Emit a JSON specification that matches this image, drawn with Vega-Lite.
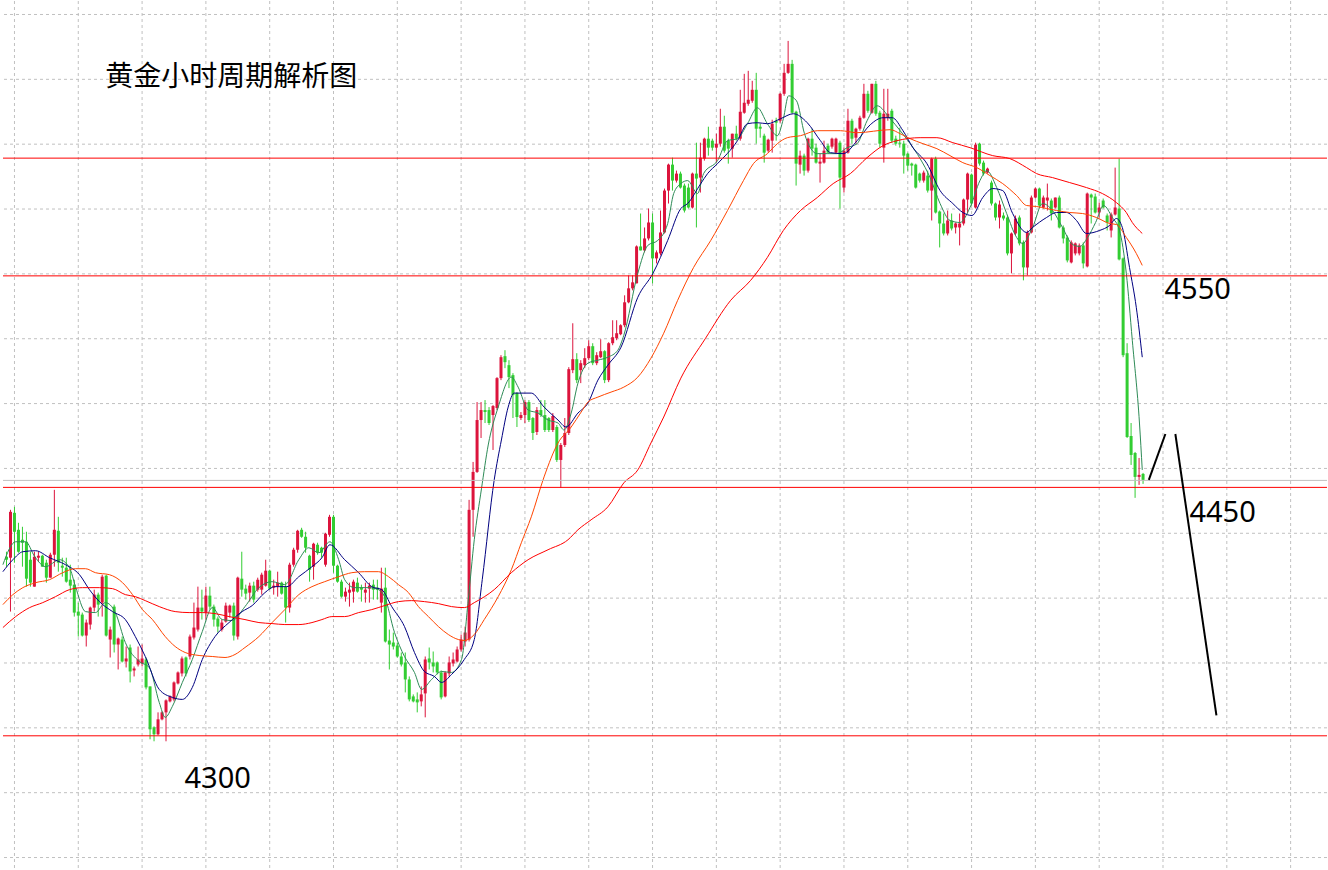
{
"$schema":"https://vega.github.io/schema/vega-lite/v6.json",
"width":1328,"height":870,"padding":0,
"autosize":{"type":"fit","contains":"padding"},
"background":"#ffffff",
"config":{"view":{"stroke":null}},
"datasets":{
"candles":[
{"i":0,"o":4421.5,"h":4424,"l":4416.5,"c":4420},
{"i":1,"o":4421,"h":4445,"l":4394,"c":4444},
{"i":2,"o":4443.5,"h":4446.5,"l":4418.5,"c":4434},
{"i":3,"o":4435,"h":4438.5,"l":4423.5,"c":4424},
{"i":4,"o":4430,"h":4436.5,"l":4416.5,"c":4428.5},
{"i":5,"o":4429,"h":4434,"l":4406.5,"c":4410.5},
{"i":6,"o":4420,"h":4424,"l":4406.5,"c":4408.5},
{"i":7,"o":4406.5,"h":4424,"l":4406.5,"c":4421.5},
{"i":8,"o":4421,"h":4424,"l":4419,"c":4422},
{"i":9,"o":4422,"h":4422.5,"l":4416.5,"c":4416.5},
{"i":10,"o":4418.5,"h":4420,"l":4408.5,"c":4411},
{"i":11,"o":4411,"h":4423.5,"l":4411,"c":4422.5},
{"i":12,"o":4422.5,"h":4455,"l":4416.5,"c":4435},
{"i":13,"o":4434.5,"h":4441.5,"l":4414,"c":4418.5},
{"i":14,"o":4417,"h":4421,"l":4411.5,"c":4416},
{"i":15,"o":4416,"h":4421,"l":4408.5,"c":4409},
{"i":16,"o":4410,"h":4417.5,"l":4403.5,"c":4407},
{"i":17,"o":4407.5,"h":4410,"l":4391.5,"c":4393.5},
{"i":18,"o":4394,"h":4398.5,"l":4381.5,"c":4392},
{"i":19,"o":4392.5,"h":4393.5,"l":4381.5,"c":4382},
{"i":20,"o":4382,"h":4390,"l":4376.5,"c":4388.5},
{"i":21,"o":4387.5,"h":4396.5,"l":4385,"c":4396},
{"i":22,"o":4396,"h":4405,"l":4394,"c":4402.5},
{"i":23,"o":4402.5,"h":4403.5,"l":4391.5,"c":4397.5},
{"i":24,"o":4398.5,"h":4412.5,"l":4391.5,"c":4411.5},
{"i":25,"o":4412,"h":4412.5,"l":4381.5,"c":4382},
{"i":26,"o":4380,"h":4386.5,"l":4371,"c":4385},
{"i":27,"o":4396.5,"h":4397.5,"l":4373.5,"c":4377.5},
{"i":28,"o":4377.5,"h":4381,"l":4365,"c":4380.5},
{"i":29,"o":4380,"h":4381.5,"l":4368.5,"c":4369},
{"i":30,"o":4369,"h":4376.5,"l":4366,"c":4370.5},
{"i":31,"o":4376,"h":4377.5,"l":4358.5,"c":4364},
{"i":32,"o":4364.5,"h":4366.5,"l":4361.5,"c":4365.5},
{"i":33,"o":4367.5,"h":4376.5,"l":4366.5,"c":4370},
{"i":34,"o":4368,"h":4377.5,"l":4366.5,"c":4370.5},
{"i":35,"o":4370,"h":4371,"l":4355,"c":4356},
{"i":36,"o":4356.5,"h":4356.5,"l":4330,"c":4335},
{"i":37,"o":4336,"h":4336.5,"l":4329,"c":4332.5},
{"i":38,"o":4332.5,"h":4343.5,"l":4332,"c":4340},
{"i":39,"o":4340,"h":4344,"l":4339.5,"c":4343.5},
{"i":40,"o":4343.5,"h":4350,"l":4329,"c":4349.5},
{"i":41,"o":4349,"h":4352,"l":4348.5,"c":4351.5},
{"i":42,"o":4350,"h":4359,"l":4349,"c":4358.5},
{"i":43,"o":4358,"h":4364,"l":4357.5,"c":4363.5},
{"i":44,"o":4363,"h":4371.5,"l":4361.5,"c":4370.5},
{"i":45,"o":4371,"h":4371.5,"l":4361.5,"c":4363},
{"i":46,"o":4371.5,"h":4382.5,"l":4370,"c":4381.5},
{"i":47,"o":4381,"h":4398.5,"l":4380,"c":4386},
{"i":48,"o":4385,"h":4406.5,"l":4384,"c":4396},
{"i":49,"o":4396,"h":4405,"l":4390,"c":4394},
{"i":50,"o":4393.5,"h":4406.5,"l":4390,"c":4402},
{"i":51,"o":4402,"h":4406.5,"l":4395,"c":4396.5},
{"i":52,"o":4396.5,"h":4397.5,"l":4386.5,"c":4390},
{"i":53,"o":4390.5,"h":4391.5,"l":4383.5,"c":4386.5},
{"i":54,"o":4385,"h":4390,"l":4384,"c":4388.5},
{"i":55,"o":4389,"h":4398.5,"l":4388.5,"c":4397},
{"i":56,"o":4393.5,"h":4397.5,"l":4391,"c":4397},
{"i":57,"o":4397,"h":4398.5,"l":4379.5,"c":4382},
{"i":58,"o":4381.5,"h":4411.5,"l":4380,"c":4411},
{"i":59,"o":4410.5,"h":4424,"l":4401.5,"c":4405},
{"i":60,"o":4405.5,"h":4407.5,"l":4400,"c":4403},
{"i":61,"o":4403.5,"h":4408.5,"l":4399,"c":4407},
{"i":62,"o":4407,"h":4409,"l":4398.5,"c":4400},
{"i":63,"o":4405,"h":4411,"l":4404,"c":4410},
{"i":64,"o":4405,"h":4413.5,"l":4402.5,"c":4412.5},
{"i":65,"o":4407,"h":4420,"l":4406.5,"c":4414.5},
{"i":66,"o":4414.5,"h":4415,"l":4405,"c":4405.5},
{"i":67,"o":4406,"h":4410,"l":4402.5,"c":4407},
{"i":68,"o":4406.5,"h":4414,"l":4401.5,"c":4408.5},
{"i":69,"o":4408.5,"h":4409,"l":4402.5,"c":4403},
{"i":70,"o":4406.5,"h":4409,"l":4388.5,"c":4396},
{"i":71,"o":4396,"h":4418.5,"l":4393.5,"c":4417.5},
{"i":72,"o":4417.5,"h":4426,"l":4416.5,"c":4425},
{"i":73,"o":4425,"h":4435,"l":4423.5,"c":4434.5},
{"i":74,"o":4435,"h":4436,"l":4431,"c":4431.5},
{"i":75,"o":4431.5,"h":4434,"l":4423.5,"c":4426},
{"i":76,"o":4422,"h":4422.5,"l":4409,"c":4415},
{"i":77,"o":4416.5,"h":4428.5,"l":4410,"c":4428},
{"i":78,"o":4427.5,"h":4428.5,"l":4422.5,"c":4423.5},
{"i":79,"o":4426,"h":4426.5,"l":4421,"c":4423.5},
{"i":80,"o":4417.5,"h":4433.5,"l":4416.5,"c":4433},
{"i":81,"o":4432.5,"h":4442.5,"l":4431.5,"c":4441.5},
{"i":82,"o":4441.5,"h":4442.5,"l":4413.5,"c":4417},
{"i":83,"o":4417,"h":4417.5,"l":4408.5,"c":4409},
{"i":84,"o":4409,"h":4410,"l":4401,"c":4401.5},
{"i":85,"o":4401.5,"h":4406,"l":4399,"c":4404},
{"i":86,"o":4403.5,"h":4408.5,"l":4396.5,"c":4405},
{"i":87,"o":4404,"h":4410,"l":4398.5,"c":4409},
{"i":88,"o":4408.5,"h":4411,"l":4403.5,"c":4404},
{"i":89,"o":4406,"h":4407.5,"l":4399,"c":4405},
{"i":90,"o":4403.5,"h":4408.5,"l":4398.5,"c":4405},
{"i":91,"o":4405.5,"h":4408.5,"l":4398.5,"c":4407},
{"i":92,"o":4407.5,"h":4410,"l":4400,"c":4405},
{"i":93,"o":4406,"h":4410,"l":4400,"c":4405},
{"i":94,"o":4398.5,"h":4416,"l":4393.5,"c":4405.5},
{"i":95,"o":4406,"h":4416,"l":4378.5,"c":4379},
{"i":96,"o":4379.5,"h":4385,"l":4365,"c":4377.5},
{"i":97,"o":4378.5,"h":4383.5,"l":4375,"c":4376.5},
{"i":98,"o":4377,"h":4378.5,"l":4371,"c":4371.5},
{"i":99,"o":4371.5,"h":4373.5,"l":4366.5,"c":4367.5},
{"i":100,"o":4368.5,"h":4373.5,"l":4353.5,"c":4360},
{"i":101,"o":4360,"h":4361.5,"l":4349,"c":4350},
{"i":102,"o":4351.5,"h":4352.5,"l":4348.5,"c":4349},
{"i":103,"o":4350,"h":4353.5,"l":4343.5,"c":4348.5},
{"i":104,"o":4349,"h":4356.5,"l":4346.5,"c":4352.5},
{"i":105,"o":4353,"h":4371.5,"l":4341,"c":4370},
{"i":106,"o":4370.5,"h":4376,"l":4365,"c":4368.5},
{"i":107,"o":4368.5,"h":4374,"l":4363.5,"c":4366.5},
{"i":108,"o":4368.5,"h":4369,"l":4362.5,"c":4363.5},
{"i":109,"o":4363.5,"h":4364.5,"l":4350,"c":4351},
{"i":110,"o":4351.5,"h":4364,"l":4351,"c":4363.5},
{"i":111,"o":4363,"h":4371.5,"l":4361.5,"c":4368.5},
{"i":112,"o":4368,"h":4373.5,"l":4366.5,"c":4370},
{"i":113,"o":4369,"h":4376.5,"l":4368.5,"c":4375},
{"i":114,"o":4375,"h":4382.5,"l":4374,"c":4380},
{"i":115,"o":4379,"h":4386.5,"l":4376.5,"c":4383.5},
{"i":116,"o":4380,"h":4450,"l":4379,"c":4445},
{"i":117,"o":4445,"h":4469,"l":4431.5,"c":4464},
{"i":118,"o":4464,"h":4499,"l":4463.5,"c":4490},
{"i":119,"o":4490,"h":4499,"l":4481,"c":4495},
{"i":120,"o":4495,"h":4500,"l":4488.5,"c":4494},
{"i":121,"o":4495,"h":4496.5,"l":4487.5,"c":4488.5},
{"i":122,"o":4492.5,"h":4497.5,"l":4475,"c":4497},
{"i":123,"o":4496,"h":4511.5,"l":4495,"c":4511},
{"i":124,"o":4511,"h":4522.5,"l":4510,"c":4521.5},
{"i":125,"o":4522,"h":4525,"l":4516,"c":4519},
{"i":126,"o":4517.5,"h":4520,"l":4506,"c":4511.5},
{"i":127,"o":4512.5,"h":4513.5,"l":4491,"c":4502.5},
{"i":128,"o":4503.5,"h":4504,"l":4486.5,"c":4491.5},
{"i":129,"o":4491,"h":4494,"l":4490,"c":4492.5},
{"i":130,"o":4492.5,"h":4500,"l":4488.5,"c":4499},
{"i":131,"o":4499,"h":4500,"l":4489,"c":4490},
{"i":132,"o":4491,"h":4491.5,"l":4480,"c":4483.5},
{"i":133,"o":4484,"h":4496.5,"l":4482.5,"c":4495},
{"i":134,"o":4495,"h":4500,"l":4491.5,"c":4492.5},
{"i":135,"o":4492.5,"h":4500,"l":4484,"c":4485},
{"i":136,"o":4491,"h":4491.5,"l":4484,"c":4485},
{"i":137,"o":4485,"h":4493.5,"l":4484,"c":4492},
{"i":138,"o":4486.5,"h":4487.5,"l":4469,"c":4470},
{"i":139,"o":4470,"h":4478.5,"l":4456,"c":4477.5},
{"i":140,"o":4477.5,"h":4491,"l":4476.5,"c":4483.5},
{"i":141,"o":4483.5,"h":4516.5,"l":4482.5,"c":4515.5},
{"i":142,"o":4515,"h":4538.5,"l":4513.5,"c":4520.5},
{"i":143,"o":4520.5,"h":4523.5,"l":4508.5,"c":4510},
{"i":144,"o":4515,"h":4520,"l":4508.5,"c":4518.5},
{"i":145,"o":4517.5,"h":4526,"l":4516,"c":4521},
{"i":146,"o":4521,"h":4530,"l":4520,"c":4527},
{"i":147,"o":4527,"h":4528.5,"l":4517.5,"c":4518.5},
{"i":148,"o":4518.5,"h":4524,"l":4517.5,"c":4522.5},
{"i":149,"o":4521.5,"h":4530.5,"l":4521,"c":4524.5},
{"i":150,"o":4524.5,"h":4525,"l":4508.5,"c":4510},
{"i":151,"o":4510,"h":4529,"l":4509,"c":4528.5},
{"i":152,"o":4528.5,"h":4540,"l":4527.5,"c":4531.5},
{"i":153,"o":4531,"h":4540,"l":4530,"c":4533.5},
{"i":154,"o":4533,"h":4538,"l":4532.5,"c":4537.5},
{"i":155,"o":4537.5,"h":4552.5,"l":4536.5,"c":4549},
{"i":156,"o":4549,"h":4562.5,"l":4548.5,"c":4556},
{"i":157,"o":4556,"h":4562.5,"l":4555,"c":4559},
{"i":158,"o":4558.5,"h":4577.5,"l":4558.5,"c":4577},
{"i":159,"o":4577,"h":4593.5,"l":4575,"c":4575},
{"i":160,"o":4575,"h":4586.5,"l":4574,"c":4581},
{"i":161,"o":4581,"h":4596,"l":4580,"c":4589},
{"i":162,"o":4589,"h":4593.5,"l":4558.5,"c":4571},
{"i":163,"o":4571,"h":4575,"l":4568.5,"c":4574},
{"i":164,"o":4573.5,"h":4595,"l":4572.5,"c":4584},
{"i":165,"o":4584,"h":4606,"l":4583.5,"c":4605},
{"i":166,"o":4605,"h":4618.5,"l":4598.5,"c":4618},
{"i":167,"o":4618,"h":4621.5,"l":4605,"c":4610},
{"i":168,"o":4610,"h":4615,"l":4609,"c":4613.5},
{"i":169,"o":4613.5,"h":4614.5,"l":4606,"c":4606.5},
{"i":170,"o":4607.5,"h":4608.5,"l":4594,"c":4595},
{"i":171,"o":4606.5,"h":4608.5,"l":4596,"c":4596.5},
{"i":172,"o":4596.5,"h":4614,"l":4596,"c":4613.5},
{"i":173,"o":4613.5,"h":4629,"l":4586.5,"c":4611},
{"i":174,"o":4611.5,"h":4629,"l":4604,"c":4621.5},
{"i":175,"o":4621,"h":4631.5,"l":4620,"c":4631},
{"i":176,"o":4631,"h":4637,"l":4622.5,"c":4626.5},
{"i":177,"o":4630,"h":4631,"l":4625,"c":4626.5},
{"i":178,"o":4626.5,"h":4633.5,"l":4619,"c":4628.5},
{"i":179,"o":4628.5,"h":4646,"l":4627,"c":4637},
{"i":180,"o":4637,"h":4642.5,"l":4624,"c":4625},
{"i":181,"o":4630,"h":4631,"l":4618.5,"c":4626},
{"i":182,"o":4626,"h":4633.5,"l":4621.5,"c":4633.5},
{"i":183,"o":4633.5,"h":4637.5,"l":4630,"c":4631},
{"i":184,"o":4631,"h":4655.5,"l":4630,"c":4644.5},
{"i":185,"o":4644,"h":4663.5,"l":4643.5,"c":4649},
{"i":186,"o":4648.5,"h":4665,"l":4647.5,"c":4650.5},
{"i":187,"o":4650,"h":4660,"l":4649,"c":4655.5},
{"i":188,"o":4655.5,"h":4664,"l":4628.5,"c":4636},
{"i":189,"o":4637,"h":4638.5,"l":4631.5,"c":4636},
{"i":190,"o":4632.5,"h":4633.5,"l":4619,"c":4624},
{"i":191,"o":4625,"h":4631,"l":4624,"c":4630.5},
{"i":192,"o":4630,"h":4640.5,"l":4624,"c":4638.5},
{"i":193,"o":4640,"h":4641.5,"l":4630,"c":4639},
{"i":194,"o":4640,"h":4654,"l":4639,"c":4653.5},
{"i":195,"o":4653.5,"h":4668.5,"l":4652.5,"c":4664},
{"i":196,"o":4664,"h":4680,"l":4663.5,"c":4668.5},
{"i":197,"o":4668.5,"h":4670.5,"l":4643.5,"c":4644},
{"i":198,"o":4644.5,"h":4645,"l":4607.5,"c":4618.5},
{"i":199,"o":4618,"h":4625,"l":4613.5,"c":4622.5},
{"i":200,"o":4622.5,"h":4623.5,"l":4612.5,"c":4615},
{"i":201,"o":4615,"h":4631.5,"l":4614,"c":4631},
{"i":202,"o":4631,"h":4636,"l":4622.5,"c":4626},
{"i":203,"o":4626.5,"h":4628.5,"l":4618.5,"c":4619},
{"i":204,"o":4618.5,"h":4623.5,"l":4609,"c":4619.5},
{"i":205,"o":4619,"h":4630,"l":4618.5,"c":4625},
{"i":206,"o":4627.5,"h":4628.5,"l":4623.5,"c":4624},
{"i":207,"o":4627,"h":4631.5,"l":4626,"c":4631},
{"i":208,"o":4624,"h":4631.5,"l":4623.5,"c":4631},
{"i":209,"o":4629,"h":4630,"l":4596,"c":4611.5},
{"i":210,"o":4606.5,"h":4626.5,"l":4604,"c":4625},
{"i":211,"o":4624,"h":4646,"l":4623.5,"c":4640},
{"i":212,"o":4640,"h":4641,"l":4628.5,"c":4631},
{"i":213,"o":4631.5,"h":4636.5,"l":4628.5,"c":4636},
{"i":214,"o":4636,"h":4642.5,"l":4635,"c":4641.5},
{"i":215,"o":4641.5,"h":4658.5,"l":4641,"c":4653.5},
{"i":216,"o":4653.5,"h":4655,"l":4644,"c":4645},
{"i":217,"o":4644,"h":4658.5,"l":4643.5,"c":4658.5},
{"i":218,"o":4658.5,"h":4660,"l":4642.5,"c":4643.5},
{"i":219,"o":4644,"h":4645,"l":4626.5,"c":4628.5},
{"i":220,"o":4626.5,"h":4656,"l":4619,"c":4643.5},
{"i":221,"o":4641.5,"h":4656,"l":4640,"c":4643.5},
{"i":222,"o":4645,"h":4646,"l":4629,"c":4630},
{"i":223,"o":4631,"h":4632.5,"l":4627.5,"c":4628.5},
{"i":224,"o":4629,"h":4636.5,"l":4626.5,"c":4628.5},
{"i":225,"o":4628.5,"h":4630,"l":4613.5,"c":4622.5},
{"i":226,"o":4623.5,"h":4624,"l":4615,"c":4617.5},
{"i":227,"o":4618.5,"h":4619,"l":4612.5,"c":4617.5},
{"i":228,"o":4618,"h":4618.5,"l":4606,"c":4606.5},
{"i":229,"o":4613.5,"h":4614,"l":4609,"c":4610},
{"i":230,"o":4610,"h":4615,"l":4609,"c":4614},
{"i":231,"o":4612.5,"h":4615,"l":4604,"c":4605},
{"i":232,"o":4605,"h":4621.5,"l":4590,"c":4621},
{"i":233,"o":4621,"h":4622,"l":4593.5,"c":4594},
{"i":234,"o":4594.5,"h":4595,"l":4576.5,"c":4588.5},
{"i":235,"o":4588.5,"h":4593.5,"l":4582.5,"c":4583.5},
{"i":236,"o":4583.5,"h":4595,"l":4582.5,"c":4590},
{"i":237,"o":4590,"h":4593.5,"l":4585,"c":4586},
{"i":238,"o":4586.5,"h":4589,"l":4583.5,"c":4588.5},
{"i":239,"o":4586.5,"h":4593.5,"l":4577.5,"c":4588.5},
{"i":240,"o":4588.5,"h":4601,"l":4587.5,"c":4600.5},
{"i":241,"o":4600.5,"h":4614,"l":4593.5,"c":4613.5},
{"i":242,"o":4613,"h":4613.5,"l":4597.5,"c":4598.5},
{"i":243,"o":4596.5,"h":4629,"l":4596,"c":4628},
{"i":244,"o":4628.5,"h":4629,"l":4617.5,"c":4618.5},
{"i":245,"o":4619,"h":4620,"l":4612.5,"c":4613.5},
{"i":246,"o":4614,"h":4616.5,"l":4613.5,"c":4616},
{"i":247,"o":4609,"h":4610,"l":4597.5,"c":4598.5},
{"i":248,"o":4598.5,"h":4599,"l":4590,"c":4591.5},
{"i":249,"o":4591.5,"h":4600,"l":4586,"c":4598},
{"i":250,"o":4592.5,"h":4594,"l":4590,"c":4591},
{"i":251,"o":4591.5,"h":4592.5,"l":4572.5,"c":4573.5},
{"i":252,"o":4573.5,"h":4584,"l":4563.5,"c":4583.5},
{"i":253,"o":4583.5,"h":4592.5,"l":4582.5,"c":4591},
{"i":254,"o":4591.5,"h":4592.5,"l":4577.5,"c":4578.5},
{"i":255,"o":4579,"h":4580,"l":4560,"c":4566.5},
{"i":256,"o":4566.5,"h":4585,"l":4562.5,"c":4584},
{"i":257,"o":4584,"h":4602.5,"l":4583.5,"c":4601.5},
{"i":258,"o":4601.5,"h":4606.5,"l":4601,"c":4606},
{"i":259,"o":4606,"h":4606.5,"l":4596.5,"c":4597.5},
{"i":260,"o":4596.5,"h":4602.5,"l":4596,"c":4601.5},
{"i":261,"o":4600,"h":4608.5,"l":4595,"c":4601.5},
{"i":262,"o":4600,"h":4601,"l":4590,"c":4593.5},
{"i":263,"o":4596.5,"h":4601.5,"l":4596,"c":4601.5},
{"i":264,"o":4601.5,"h":4602.5,"l":4586,"c":4586.5},
{"i":265,"o":4586.5,"h":4587.5,"l":4578.5,"c":4581},
{"i":266,"o":4581.5,"h":4582.5,"l":4569,"c":4570},
{"i":267,"o":4569,"h":4580,"l":4568.5,"c":4579},
{"i":268,"o":4573.5,"h":4579,"l":4572.5,"c":4578.5},
{"i":269,"o":4573.5,"h":4578.5,"l":4572.5,"c":4577.5},
{"i":270,"o":4577.5,"h":4579,"l":4566,"c":4568.5},
{"i":271,"o":4567,"h":4604,"l":4566.5,"c":4603.5},
{"i":272,"o":4603,"h":4603.5,"l":4588.5,"c":4601.5},
{"i":273,"o":4602,"h":4603.5,"l":4593.5,"c":4594},
{"i":274,"o":4594,"h":4599,"l":4591.5,"c":4596.5},
{"i":275,"o":4600,"h":4601,"l":4596,"c":4596.5},
{"i":276,"o":4592.5,"h":4593.5,"l":4585,"c":4589},
{"i":277,"o":4585,"h":4594,"l":4581.5,"c":4593},
{"i":278,"o":4593,"h":4616.5,"l":4592.5,"c":4596.5},
{"i":279,"o":4596,"h":4621,"l":4570,"c":4570.5},
{"i":280,"o":4571,"h":4571.5,"l":4521.5,"c":4522.5},
{"i":281,"o":4523.5,"h":4528.5,"l":4481,"c":4481.5},
{"i":282,"o":4482,"h":4488.5,"l":4467.5,"c":4472.5},
{"i":283,"o":4473.5,"h":4474,"l":4451,"c":4461.5},
{"i":284,"o":4461.5,"h":4471,"l":4457.5,"c":4462.5},
{"i":285,"o":4463,"h":4463.5,"l":4458,"c":4460}
],
"ma":[
{"ma":"fast","i":-0.9,"p":4417.5},{"ma":"fast","i":2.3,"p":4429},{"ma":"fast","i":4.8,"p":4429},{"ma":"fast","i":7.1,"p":4421.5},{"ma":"fast","i":9.8,"p":4416.5},{"ma":"fast","i":13.3,"p":4420},{"ma":"fast","i":15.8,"p":4416},{"ma":"fast","i":17.3,"p":4406.5},{"ma":"fast","i":19.8,"p":4394},{"ma":"fast","i":22.3,"p":4393.5},{"ma":"fast","i":24.8,"p":4398.5},{"ma":"fast","i":27.3,"p":4393.5},{"ma":"fast","i":29.8,"p":4378.5},{"ma":"fast","i":33.3,"p":4369},{"ma":"fast","i":35.8,"p":4366},{"ma":"fast","i":38.3,"p":4348.5},{"ma":"fast","i":39.8,"p":4341},{"ma":"fast","i":41.6,"p":4346.5},{"ma":"fast","i":44.1,"p":4358.5},{"ma":"fast","i":46.6,"p":4370},{"ma":"fast","i":49.1,"p":4384},{"ma":"fast","i":51.6,"p":4396},{"ma":"fast","i":54.1,"p":4390},{"ma":"fast","i":56.6,"p":4389.5},{"ma":"fast","i":59.8,"p":4396.5},{"ma":"fast","i":63.3,"p":4406},{"ma":"fast","i":66.6,"p":4409},{"ma":"fast","i":69.8,"p":4407.5},{"ma":"fast","i":73.3,"p":4420},{"ma":"fast","i":75.8,"p":4426},{"ma":"fast","i":78.3,"p":4423.5},{"ma":"fast","i":81.1,"p":4429},{"ma":"fast","i":83.3,"p":4420},{"ma":"fast","i":84.8,"p":4410},{"ma":"fast","i":87.3,"p":4406},{"ma":"fast","i":90.8,"p":4406},{"ma":"fast","i":93.3,"p":4405},{"ma":"fast","i":94.8,"p":4401.5},{"ma":"fast","i":97.3,"p":4383.5},{"ma":"fast","i":99.8,"p":4371.5},{"ma":"fast","i":102.3,"p":4363.5},{"ma":"fast","i":104.1,"p":4355},{"ma":"fast","i":106.6,"p":4360},{"ma":"fast","i":109.1,"p":4364},{"ma":"fast","i":111.6,"p":4363.5},{"ma":"fast","i":114.1,"p":4370},{"ma":"fast","i":115.8,"p":4400},{"ma":"fast","i":117.3,"p":4430},{"ma":"fast","i":119.1,"p":4455.5},{"ma":"fast","i":120.8,"p":4477.5},{"ma":"fast","i":123.3,"p":4496.5},{"ma":"fast","i":126.6,"p":4511.5},{"ma":"fast","i":128.3,"p":4506.5},{"ma":"fast","i":130.8,"p":4495},{"ma":"fast","i":133.3,"p":4493.5},{"ma":"fast","i":135.8,"p":4490},{"ma":"fast","i":138.3,"p":4488.5},{"ma":"fast","i":139.8,"p":4485},{"ma":"fast","i":141.6,"p":4493.5},{"ma":"fast","i":143.3,"p":4508.5},{"ma":"fast","i":145.8,"p":4518.5},{"ma":"fast","i":148.3,"p":4520},{"ma":"fast","i":150.8,"p":4521.5},{"ma":"fast","i":153.3,"p":4525},{"ma":"fast","i":154.8,"p":4532.5},{"ma":"fast","i":158.3,"p":4563.5},{"ma":"fast","i":160.8,"p":4577.5},{"ma":"fast","i":163.3,"p":4580},{"ma":"fast","i":165.8,"p":4588.5},{"ma":"fast","i":167.3,"p":4603.5},{"ma":"fast","i":169.1,"p":4608.5},{"ma":"fast","i":170.8,"p":4610},{"ma":"fast","i":173.3,"p":4603.5},{"ma":"fast","i":174.8,"p":4613.5},{"ma":"fast","i":178.3,"p":4620},{"ma":"fast","i":180.8,"p":4630},{"ma":"fast","i":183.3,"p":4631},{"ma":"fast","i":185.8,"p":4638.5},{"ma":"fast","i":188.3,"p":4646.5},{"ma":"fast","i":190.8,"p":4638.5},{"ma":"fast","i":193.3,"p":4632.5},{"ma":"fast","i":194.8,"p":4641},{"ma":"fast","i":196.1,"p":4652.5},{"ma":"fast","i":198.1,"p":4650},{"ma":"fast","i":200.1,"p":4633.5},{"ma":"fast","i":203.3,"p":4623.5},{"ma":"fast","i":205.8,"p":4623.5},{"ma":"fast","i":208.3,"p":4623.5},{"ma":"fast","i":210.8,"p":4626.5},{"ma":"fast","i":213.3,"p":4628.5},{"ma":"fast","i":215.8,"p":4640},{"ma":"fast","i":218.3,"p":4647.5},{"ma":"fast","i":221.6,"p":4641},{"ma":"fast","i":224.1,"p":4635},{"ma":"fast","i":226.6,"p":4628.5},{"ma":"fast","i":229.1,"p":4621},{"ma":"fast","i":231.6,"p":4611.5},{"ma":"fast","i":234.1,"p":4598.5},{"ma":"fast","i":236.6,"p":4590},{"ma":"fast","i":239.1,"p":4589},{"ma":"fast","i":241.6,"p":4596.5},{"ma":"fast","i":244.1,"p":4610},{"ma":"fast","i":245.8,"p":4615},{"ma":"fast","i":248.3,"p":4606.5},{"ma":"fast","i":250.8,"p":4593.5},{"ma":"fast","i":253.3,"p":4581.5},{"ma":"fast","i":254.8,"p":4578.5},{"ma":"fast","i":257.3,"p":4586.5},{"ma":"fast","i":259.8,"p":4598.5},{"ma":"fast","i":262.3,"p":4595},{"ma":"fast","i":264.8,"p":4586.5},{"ma":"fast","i":267.3,"p":4578},{"ma":"fast","i":269.1,"p":4577},{"ma":"fast","i":271.1,"p":4581.5},{"ma":"fast","i":273.1,"p":4589},{"ma":"fast","i":275.1,"p":4597.5},{"ma":"fast","i":277.3,"p":4591.5},{"ma":"fast","i":279.1,"p":4585},{"ma":"fast","i":280.8,"p":4563.5},{"ma":"fast","i":282.3,"p":4530},{"ma":"fast","i":284.1,"p":4488.5},{"ma":"fast","i":284.8,"p":4465},
{"ma":"mid","i":-0.9,"p":4414},{"ma":"mid","i":1.6,"p":4420},{"ma":"mid","i":4.1,"p":4424},{"ma":"mid","i":7.3,"p":4424.5},{"ma":"mid","i":10.8,"p":4421},{"ma":"mid","i":14.8,"p":4417.5},{"ma":"mid","i":18.3,"p":4412.5},{"ma":"mid","i":20.8,"p":4405},{"ma":"mid","i":23.3,"p":4399},{"ma":"mid","i":26.6,"p":4394},{"ma":"mid","i":29.8,"p":4390},{"ma":"mid","i":32.3,"p":4381.5},{"ma":"mid","i":34.8,"p":4371.5},{"ma":"mid","i":38.3,"p":4355},{"ma":"mid","i":41.6,"p":4351},{"ma":"mid","i":44.1,"p":4350},{"ma":"mid","i":46.6,"p":4356},{"ma":"mid","i":49.1,"p":4370},{"ma":"mid","i":52.3,"p":4381.5},{"ma":"mid","i":55.8,"p":4388.5},{"ma":"mid","i":59.1,"p":4394},{"ma":"mid","i":61.6,"p":4397},{"ma":"mid","i":64.8,"p":4403.5},{"ma":"mid","i":67.3,"p":4406.5},{"ma":"mid","i":70.3,"p":4406.5},{"ma":"mid","i":73.3,"p":4411.5},{"ma":"mid","i":76.6,"p":4416.5},{"ma":"mid","i":79.1,"p":4421},{"ma":"mid","i":81.1,"p":4427.5},{"ma":"mid","i":84.8,"p":4420},{"ma":"mid","i":88.3,"p":4413.5},{"ma":"mid","i":91.6,"p":4406.5},{"ma":"mid","i":94.1,"p":4405},{"ma":"mid","i":96.6,"p":4396.5},{"ma":"mid","i":99.8,"p":4386.5},{"ma":"mid","i":102.3,"p":4373.5},{"ma":"mid","i":104.8,"p":4364},{"ma":"mid","i":107.3,"p":4361.5},{"ma":"mid","i":109.1,"p":4358.5},{"ma":"mid","i":111.6,"p":4362.5},{"ma":"mid","i":114.8,"p":4370},{"ma":"mid","i":117.3,"p":4380},{"ma":"mid","i":119.3,"p":4410},{"ma":"mid","i":122.3,"p":4460},{"ma":"mid","i":124.1,"p":4480},{"ma":"mid","i":125.8,"p":4496.5},{"ma":"mid","i":127.3,"p":4503.5},{"ma":"mid","i":131.6,"p":4503.5},{"ma":"mid","i":134.8,"p":4496.5},{"ma":"mid","i":138.3,"p":4490},{"ma":"mid","i":140.3,"p":4486.5},{"ma":"mid","i":143.3,"p":4493.5},{"ma":"mid","i":145.8,"p":4498.5},{"ma":"mid","i":148.3,"p":4510},{"ma":"mid","i":150.8,"p":4517.5},{"ma":"mid","i":154.1,"p":4526.5},{"ma":"mid","i":158.3,"p":4551.5},{"ma":"mid","i":162.1,"p":4563.5},{"ma":"mid","i":165.8,"p":4580},{"ma":"mid","i":169.1,"p":4596},{"ma":"mid","i":170.8,"p":4598.5},{"ma":"mid","i":174.1,"p":4608.5},{"ma":"mid","i":175.8,"p":4613.5},{"ma":"mid","i":178.3,"p":4618.5},{"ma":"mid","i":183.3,"p":4630},{"ma":"mid","i":185.8,"p":4638.5},{"ma":"mid","i":188.3,"p":4639},{"ma":"mid","i":190.8,"p":4638.5},{"ma":"mid","i":194.1,"p":4641},{"ma":"mid","i":197.3,"p":4643.5},{"ma":"mid","i":200.8,"p":4639},{"ma":"mid","i":204.1,"p":4630},{"ma":"mid","i":206.6,"p":4624},{"ma":"mid","i":209.8,"p":4623.5},{"ma":"mid","i":213.3,"p":4630},{"ma":"mid","i":216.6,"p":4638},{"ma":"mid","i":219.8,"p":4641.5},{"ma":"mid","i":222.1,"p":4641.5},{"ma":"mid","i":224.8,"p":4635},{"ma":"mid","i":227.3,"p":4626.5},{"ma":"mid","i":230.8,"p":4618.5},{"ma":"mid","i":234.1,"p":4605},{"ma":"mid","i":237.3,"p":4598.5},{"ma":"mid","i":239.8,"p":4594},{"ma":"mid","i":242.1,"p":4592.5},{"ma":"mid","i":244.8,"p":4601.5},{"ma":"mid","i":247.3,"p":4606},{"ma":"mid","i":249.8,"p":4605},{"ma":"mid","i":252.3,"p":4593.5},{"ma":"mid","i":255.8,"p":4584},{"ma":"mid","i":257.3,"p":4586.5},{"ma":"mid","i":260.8,"p":4591.5},{"ma":"mid","i":263.3,"p":4594},{"ma":"mid","i":265.8,"p":4594},{"ma":"mid","i":268.3,"p":4590},{"ma":"mid","i":270.8,"p":4583.5},{"ma":"mid","i":274.1,"p":4585},{"ma":"mid","i":276.6,"p":4587.5},{"ma":"mid","i":278.3,"p":4591},{"ma":"mid","i":279.8,"p":4586.5},{"ma":"mid","i":281.6,"p":4566.5},{"ma":"mid","i":283.3,"p":4546.5},{"ma":"mid","i":284.8,"p":4521.5},
{"ma":"slow","i":-0.9,"p":4397.5},{"ma":"slow","i":1.6,"p":4402.5},{"ma":"slow","i":4.1,"p":4406},{"ma":"slow","i":7.3,"p":4408.5},{"ma":"slow","i":10.8,"p":4410},{"ma":"slow","i":14.1,"p":4413.5},{"ma":"slow","i":17.3,"p":4415.5},{"ma":"slow","i":19.8,"p":4415.5},{"ma":"slow","i":22.3,"p":4413.5},{"ma":"slow","i":25.8,"p":4412.5},{"ma":"slow","i":29.1,"p":4408.5},{"ma":"slow","i":31.6,"p":4402.5},{"ma":"slow","i":34.1,"p":4395},{"ma":"slow","i":36.6,"p":4390},{"ma":"slow","i":39.8,"p":4381.5},{"ma":"slow","i":42.3,"p":4376.5},{"ma":"slow","i":44.8,"p":4373.5},{"ma":"slow","i":48.3,"p":4372},{"ma":"slow","i":51.6,"p":4371.5},{"ma":"slow","i":54.8,"p":4371},{"ma":"slow","i":57.3,"p":4372.5},{"ma":"slow","i":59.8,"p":4376},{"ma":"slow","i":63.3,"p":4381.5},{"ma":"slow","i":66.6,"p":4388.5},{"ma":"slow","i":69.8,"p":4395},{"ma":"slow","i":73.3,"p":4402.5},{"ma":"slow","i":76.6,"p":4406.5},{"ma":"slow","i":79.8,"p":4409},{"ma":"slow","i":83.3,"p":4411.5},{"ma":"slow","i":86.6,"p":4413.5},{"ma":"slow","i":89.8,"p":4414},{"ma":"slow","i":93.3,"p":4414},{"ma":"slow","i":95.8,"p":4411.5},{"ma":"slow","i":98.3,"p":4407.5},{"ma":"slow","i":100.8,"p":4403.5},{"ma":"slow","i":103.3,"p":4396.5},{"ma":"slow","i":105.8,"p":4391.5},{"ma":"slow","i":108.3,"p":4386.5},{"ma":"slow","i":110.8,"p":4382.5},{"ma":"slow","i":113.3,"p":4380},{"ma":"slow","i":114.8,"p":4379.5},{"ma":"slow","i":117.3,"p":4382.5},{"ma":"slow","i":119.8,"p":4390},{"ma":"slow","i":123.3,"p":4401.5},{"ma":"slow","i":126.6,"p":4415},{"ma":"slow","i":129.1,"p":4428.5},{"ma":"slow","i":131.6,"p":4441.5},{"ma":"slow","i":134.8,"p":4461.5},{"ma":"slow","i":138.3,"p":4478.5},{"ma":"slow","i":141.6,"p":4486.5},{"ma":"slow","i":144.1,"p":4494},{"ma":"slow","i":145.8,"p":4499},{"ma":"slow","i":148.3,"p":4501.5},{"ma":"slow","i":151.6,"p":4504},{"ma":"slow","i":154.8,"p":4506.5},{"ma":"slow","i":158.3,"p":4511.5},{"ma":"slow","i":161.6,"p":4521},{"ma":"slow","i":164.8,"p":4533.5},{"ma":"slow","i":168.3,"p":4550},{"ma":"slow","i":172.3,"p":4566.5},{"ma":"slow","i":176.6,"p":4580},{"ma":"slow","i":180.8,"p":4595},{"ma":"slow","i":184.8,"p":4610},{"ma":"slow","i":187.3,"p":4618.5},{"ma":"slow","i":190.8,"p":4623.5},{"ma":"slow","i":193.3,"p":4628.5},{"ma":"slow","i":195.8,"p":4631.5},{"ma":"slow","i":199.1,"p":4632.5},{"ma":"slow","i":203.3,"p":4635},{"ma":"slow","i":209.1,"p":4635},{"ma":"slow","i":213.3,"p":4634},{"ma":"slow","i":221.6,"p":4635.5},{"ma":"slow","i":224.1,"p":4633.5},{"ma":"slow","i":226.6,"p":4631},{"ma":"slow","i":229.8,"p":4628.5},{"ma":"slow","i":233.3,"p":4626},{"ma":"slow","i":236.6,"p":4622.5},{"ma":"slow","i":239.8,"p":4619},{"ma":"slow","i":243.3,"p":4616.5},{"ma":"slow","i":246.6,"p":4612.5},{"ma":"slow","i":249.8,"p":4608.5},{"ma":"slow","i":253.3,"p":4602.5},{"ma":"slow","i":255.8,"p":4597.5},{"ma":"slow","i":258.3,"p":4597},{"ma":"slow","i":260.8,"p":4596},{"ma":"slow","i":263.3,"p":4595},{"ma":"slow","i":266.6,"p":4594},{"ma":"slow","i":269.8,"p":4593.5},{"ma":"slow","i":273.3,"p":4591.5},{"ma":"slow","i":276.6,"p":4588.5},{"ma":"slow","i":278.3,"p":4588},{"ma":"slow","i":280.8,"p":4581.5},{"ma":"slow","i":283.3,"p":4573.5},{"ma":"slow","i":284.8,"p":4567.5},
{"ma":"long","i":-0.9,"p":4386},{"ma":"long","i":2.3,"p":4391.5},{"ma":"long","i":5.8,"p":4396},{"ma":"long","i":9.1,"p":4398.5},{"ma":"long","i":12.3,"p":4401.5},{"ma":"long","i":15.8,"p":4405},{"ma":"long","i":19.1,"p":4406},{"ma":"long","i":23.3,"p":4406},{"ma":"long","i":26.6,"p":4405.5},{"ma":"long","i":29.8,"p":4402.5},{"ma":"long","i":32.3,"p":4401.5},{"ma":"long","i":34.8,"p":4399.5},{"ma":"long","i":38.3,"p":4396.5},{"ma":"long","i":42.3,"p":4394},{"ma":"long","i":45.8,"p":4393.5},{"ma":"long","i":49.1,"p":4393.5},{"ma":"long","i":52.3,"p":4393},{"ma":"long","i":55.8,"p":4391.5},{"ma":"long","i":59.8,"p":4390},{"ma":"long","i":63.3,"p":4388.5},{"ma":"long","i":66.6,"p":4388},{"ma":"long","i":69.8,"p":4387.5},{"ma":"long","i":73.3,"p":4387.5},{"ma":"long","i":76.6,"p":4388.5},{"ma":"long","i":79.1,"p":4390},{"ma":"long","i":81.6,"p":4391.5},{"ma":"long","i":84.8,"p":4391.5},{"ma":"long","i":88.3,"p":4393.5},{"ma":"long","i":91.6,"p":4395},{"ma":"long","i":94.8,"p":4397},{"ma":"long","i":98.3,"p":4399},{"ma":"long","i":101.6,"p":4399.5},{"ma":"long","i":104.8,"p":4399},{"ma":"long","i":108.3,"p":4398},{"ma":"long","i":111.6,"p":4396.5},{"ma":"long","i":114.8,"p":4396},{"ma":"long","i":117.3,"p":4398.5},{"ma":"long","i":122.3,"p":4405},{"ma":"long","i":126.6,"p":4413.5},{"ma":"long","i":130.8,"p":4420},{"ma":"long","i":135.8,"p":4425},{"ma":"long","i":140.8,"p":4430},{"ma":"long","i":143.3,"p":4435},{"ma":"long","i":146.6,"p":4440},{"ma":"long","i":150.8,"p":4446.5},{"ma":"long","i":154.8,"p":4458.5},{"ma":"long","i":158.3,"p":4465},{"ma":"long","i":161.6,"p":4478.5},{"ma":"long","i":164.8,"p":4491.5},{"ma":"long","i":169.1,"p":4511},{"ma":"long","i":175.3,"p":4531},{"ma":"long","i":181.6,"p":4550},{"ma":"long","i":186.6,"p":4560},{"ma":"long","i":190.8,"p":4571.5},{"ma":"long","i":194.8,"p":4585},{"ma":"long","i":199.1,"p":4595},{"ma":"long","i":203.3,"p":4601.5},{"ma":"long","i":207.3,"p":4608.5},{"ma":"long","i":211.6,"p":4613.5},{"ma":"long","i":215.8,"p":4621.5},{"ma":"long","i":219.8,"p":4627.5},{"ma":"long","i":223.3,"p":4630},{"ma":"long","i":229.1,"p":4631.5},{"ma":"long","i":233.3,"p":4631.5},{"ma":"long","i":237.3,"p":4629},{"ma":"long","i":241.6,"p":4626.5},{"ma":"long","i":247.3,"p":4622.5},{"ma":"long","i":251.6,"p":4621},{"ma":"long","i":255.8,"p":4616.5},{"ma":"long","i":258.3,"p":4613.5},{"ma":"long","i":262.3,"p":4611.5},{"ma":"long","i":266.6,"p":4609},{"ma":"long","i":270.8,"p":4606.5},{"ma":"long","i":274.8,"p":4603.5},{"ma":"long","i":278.3,"p":4599},{"ma":"long","i":280.8,"p":4594},{"ma":"long","i":282.3,"p":4589},{"ma":"long","i":284.8,"p":4583.5}
],
"gridx":[{"i":2},{"i":18},{"i":34},{"i":50},{"i":66},{"i":82},{"i":98},{"i":114},{"i":130},{"i":146},{"i":162},{"i":178},{"i":194},{"i":210},{"i":226},{"i":242},{"i":258},{"i":274},{"i":290},{"i":306},{"i":322}],
"gridy":[{"p":4693.25},{"p":4660.75},{"p":4628.25},{"p":4595.75},{"p":4563.25},{"p":4530.75},{"p":4498.25},{"p":4465.75},{"p":4433.25},{"p":4400.75},{"p":4368.25},{"p":4335.75},{"p":4303.25},{"p":4270.75}],
"levels":[{"p":4621.25,"kind":"red"},{"p":4562.25,"kind":"red"},{"p":4456.25,"kind":"red"},{"p":4331.75,"kind":"red"},{"p":4459.75,"kind":"gray"}],
"strokes":[{"seg":"a","i":286.45,"p":4460},{"seg":"a","i":290.6,"p":4483},{"seg":"b","i":293.1,"p":4483},{"seg":"b","i":303.4,"p":4342}],
"nums":[{"t":"4550","i":290.375,"p":4550.5},{"t":"4450","i":296.625,"p":4439},{"t":"4300","i":44.625,"p":4305.5}],
"title":[{"t":"黄金小时周期解析图","i":24.75,"p":4661.5}]
},
"layer":[
{"data":{"name":"gridx"},"mark":{"type":"rule","color":"#c0c0c0","strokeWidth":1,"strokeDash":[3,3]},
 "encoding":{"x":{"field":"i","type":"quantitative","scale":{"domain":[-0.875,331.125],"nice":false,"zero":false,"padding":0},"axis":null}}},
{"data":{"name":"gridy"},"mark":{"type":"rule","color":"#c0c0c0","strokeWidth":1,"strokeDash":[3,3]},
 "encoding":{"y":{"field":"p","type":"quantitative","scale":{"domain":[4265,4700],"nice":false,"zero":false,"padding":0},"axis":null}}},
{"data":{"name":"candles"},"mark":{"type":"rule","strokeWidth":1},
 "encoding":{"x":{"field":"i","type":"quantitative","axis":null},"y":{"field":"l","type":"quantitative","axis":null},"y2":{"field":"h"},
 "color":{"condition":{"test":"datum.c >= datum.o","value":"#dc143c"},"value":"#32cd32"}}},
{"data":{"name":"candles"},"mark":{"type":"bar","size":3},
 "encoding":{"x":{"field":"i","type":"quantitative","axis":null},"y":{"field":"o","type":"quantitative","axis":null},"y2":{"field":"c"},
 "color":{"condition":{"test":"datum.c >= datum.o","value":"#dc143c"},"value":"#32cd32"}}},
{"data":{"name":"ma"},"mark":{"type":"line","strokeWidth":1,"interpolate":"monotone"},
 "encoding":{"x":{"field":"i","type":"quantitative","axis":null},"y":{"field":"p","type":"quantitative","axis":null},
 "color":{"field":"ma","type":"nominal","scale":{"domain":["fast","mid","slow","long"],"range":["#2e8b57","#000080","#ff4500","#ff0000"]},"legend":null}}},
{"data":{"name":"levels"},"mark":{"type":"rule","strokeWidth":1},
 "encoding":{"y":{"field":"p","type":"quantitative","axis":null},
 "stroke":{"condition":{"test":"datum.kind == 'gray'","value":"#c0c0c0"},"value":"#ff0000"}}},
{"data":{"name":"strokes"},"mark":{"type":"line","color":"#000000","strokeWidth":2},
 "encoding":{"x":{"field":"i","type":"quantitative","axis":null},"y":{"field":"p","type":"quantitative","axis":null},"detail":{"field":"seg"}}},
{"data":{"name":"nums"},"mark":{"type":"text","font":"Noto Sans","fontSize":29,"color":"#000000","align":"left","baseline":"alphabetic"},
 "encoding":{"x":{"field":"i","type":"quantitative","axis":null},"y":{"field":"p","type":"quantitative","axis":null},"text":{"field":"t"}}},
{"data":{"name":"title"},"mark":{"type":"text","font":"Noto Sans CJK SC","fontSize":28,"color":"#000000","align":"left","baseline":"middle"},
 "encoding":{"x":{"field":"i","type":"quantitative","axis":null},"y":{"field":"p","type":"quantitative","axis":null},"text":{"field":"t"}}}
]
}
